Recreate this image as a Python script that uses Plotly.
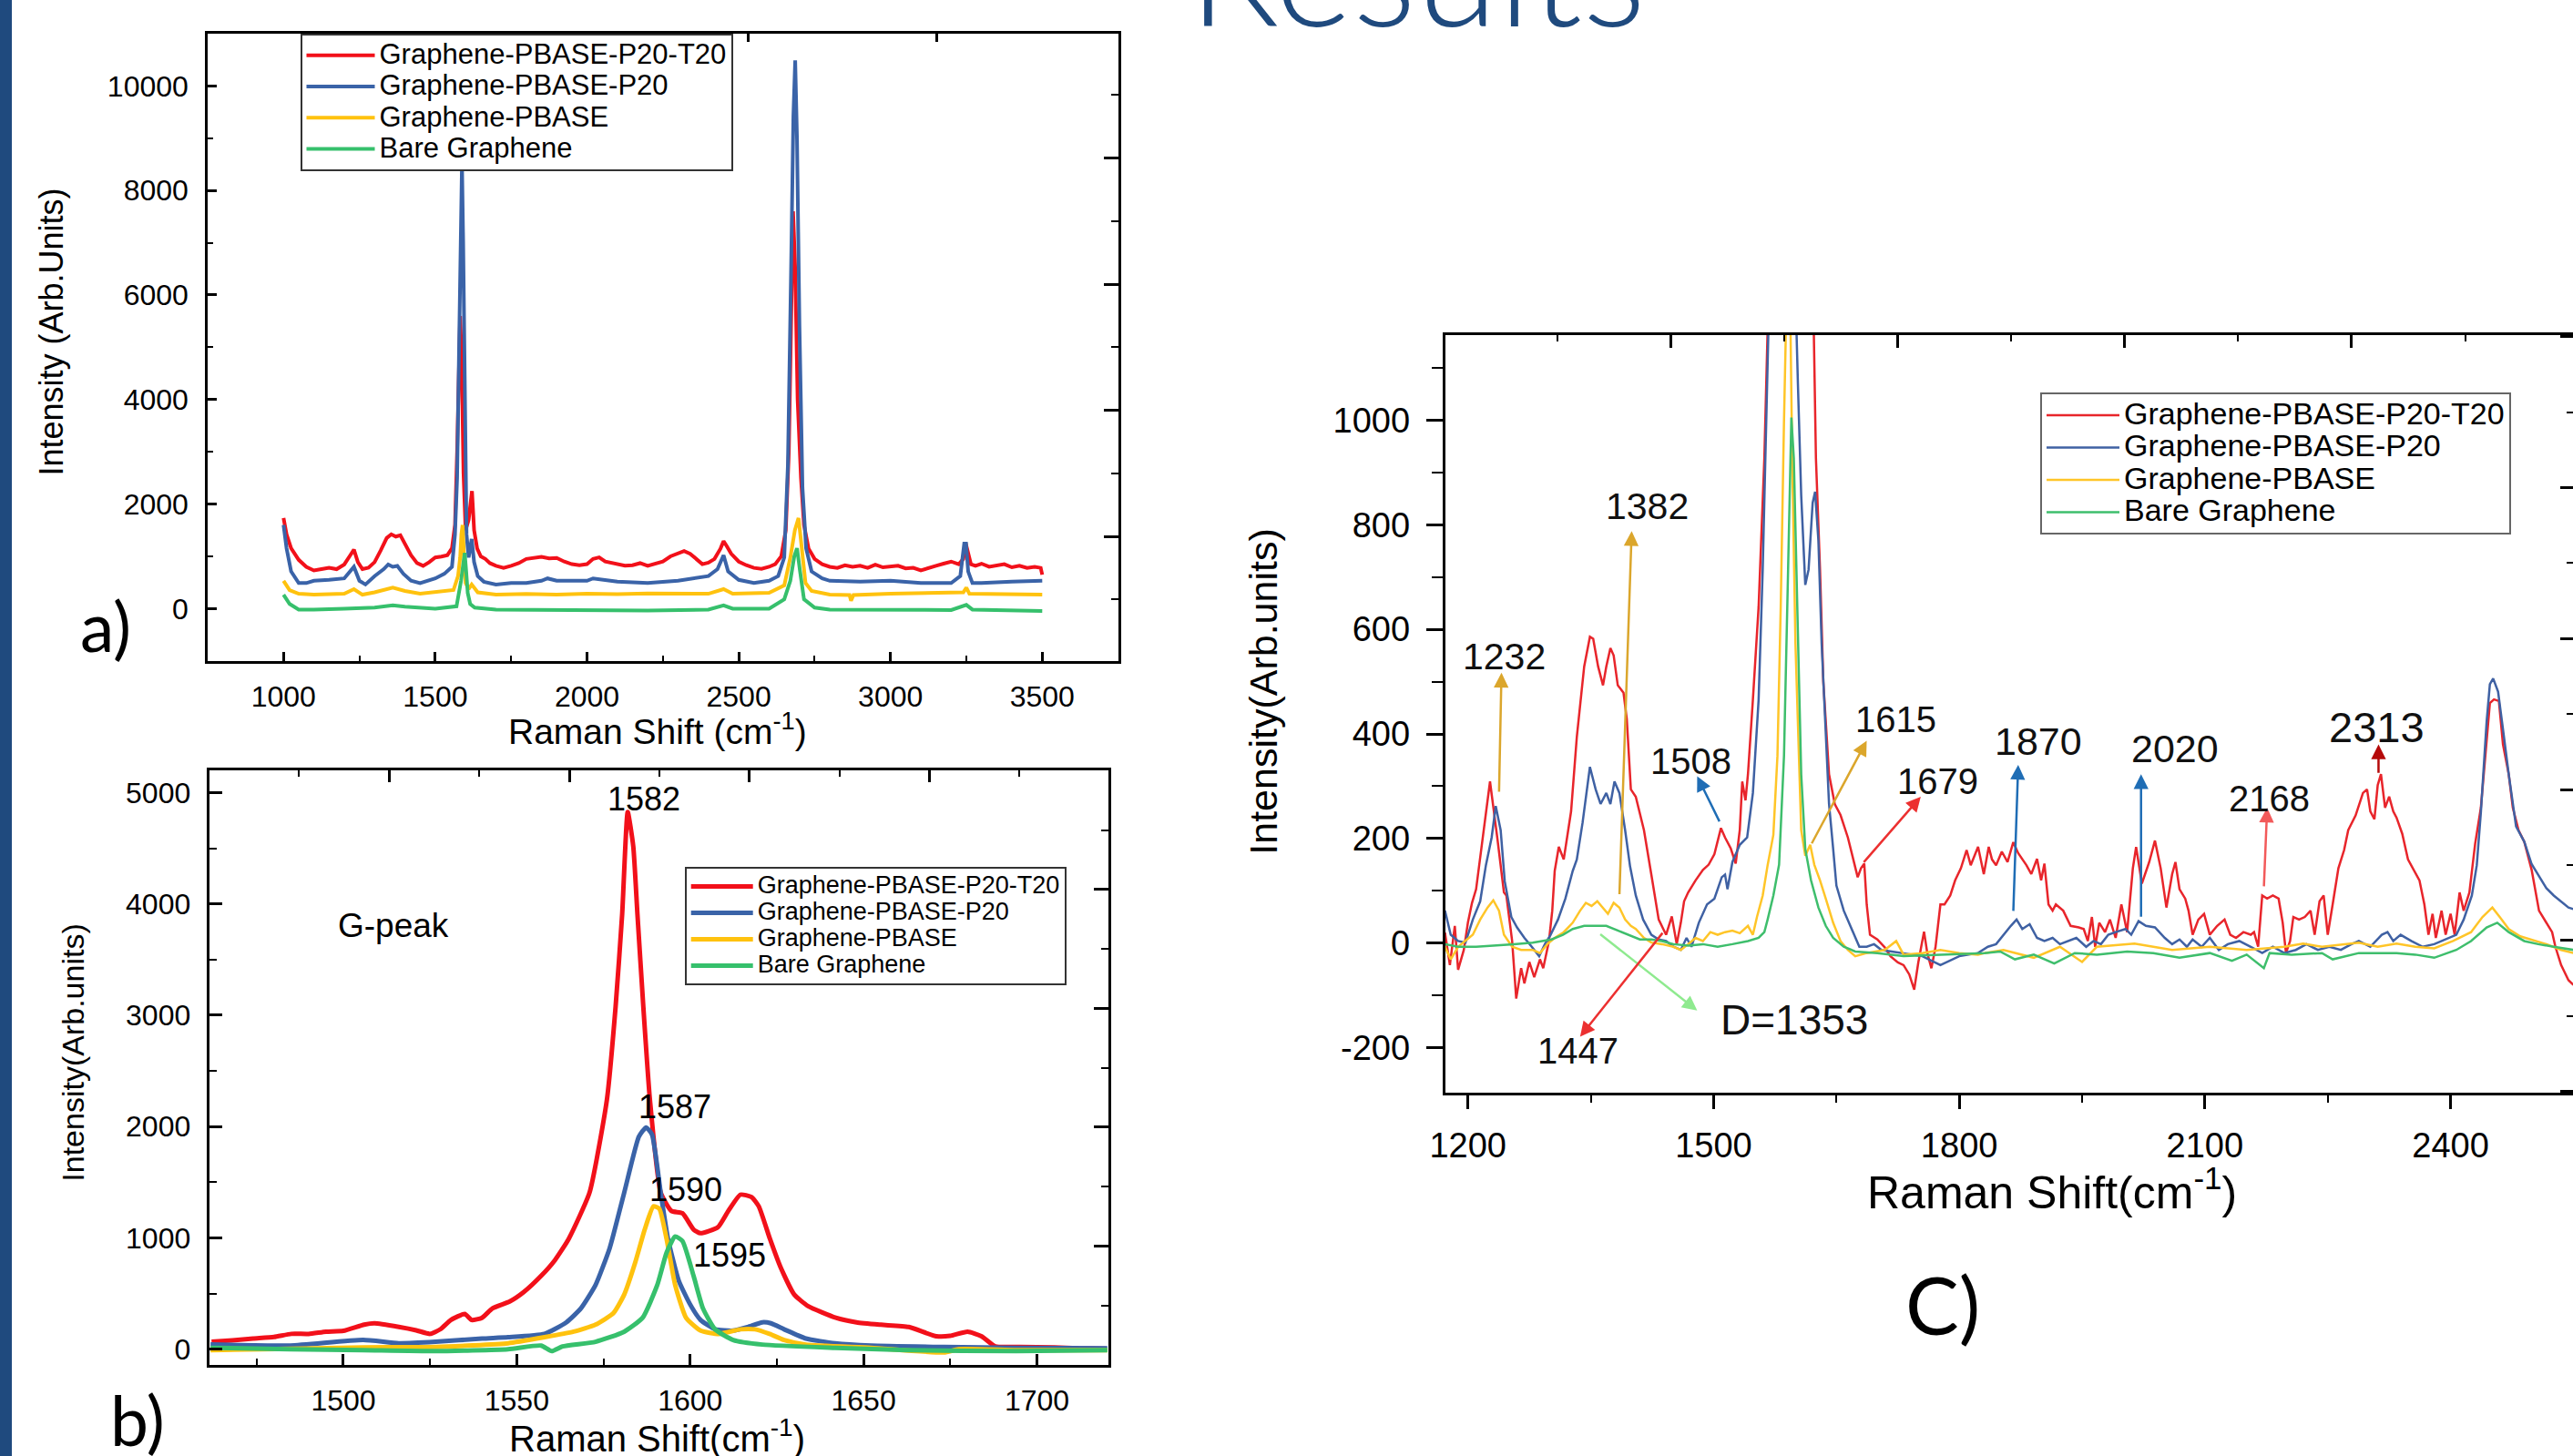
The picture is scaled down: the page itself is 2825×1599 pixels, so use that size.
import plotly.graph_objects as go

W, H = 2825, 1599


def px(x):
    return x / W


def py(y):
    return 1 - y / H


SERIES = ["Graphene-PBASE-P20-T20", "Graphene-PBASE-P20", "Graphene-PBASE", "Bare Graphene"]

# ---------------- panel a: full spectra (x = Raman shift, y = intensity) ----------------
A_T20 = [(1000, 1733), (1010, 1422), (1025, 1155), (1050, 933), (1075, 800), (1100, 729), (1125, 755),
         (1150, 782), (1175, 755), (1200, 844), (1220, 1022), (1232, 1129), (1245, 889), (1260, 755),
         (1280, 782), (1300, 889), (1320, 1111), (1340, 1351), (1355, 1422), (1370, 1378), (1385, 1404),
         (1400, 1244), (1420, 1022), (1440, 871), (1460, 818), (1480, 889), (1500, 978), (1520, 995),
         (1540, 1022), (1555, 1155), (1565, 1600), (1572, 3000), (1578, 4800), (1582, 5600), (1587, 4800),
         (1593, 2600), (1600, 1500), (1610, 1700), (1621, 2250), (1628, 1500), (1638, 1150), (1650, 1000),
         (1665, 950), (1680, 870), (1700, 820), (1725, 780), (1750, 820), (1775, 870), (1800, 950),
         (1825, 970), (1850, 990), (1875, 960), (1900, 970), (1925, 900), (1950, 850), (1975, 830),
         (2000, 850), (2020, 950), (2040, 980), (2060, 900), (2080, 880), (2100, 850), (2125, 820),
         (2150, 830), (2175, 870), (2200, 820), (2225, 860), (2250, 900), (2275, 1000), (2300, 1050),
         (2320, 1100), (2340, 1050), (2360, 950), (2380, 850), (2400, 880), (2420, 950), (2440, 1150),
         (2450, 1290), (2460, 1200), (2475, 1050), (2500, 900), (2525, 830), (2550, 780), (2575, 760),
         (2600, 800), (2620, 850), (2640, 1000), (2655, 1500), (2665, 3000), (2672, 5500), (2679, 7600),
         (2686, 6500), (2694, 4000), (2705, 2500), (2715, 1600), (2730, 1150), (2750, 950), (2775, 850),
         (2800, 800), (2825, 780), (2850, 830), (2875, 800), (2900, 820), (2925, 780), (2950, 840),
         (2975, 790), (3000, 800), (3025, 820), (3050, 770), (3075, 780), (3100, 730), (3125, 780),
         (3150, 820), (3175, 860), (3200, 900), (3225, 850), (3240, 950), (3248, 1250), (3255, 1050),
         (3265, 850), (3280, 820), (3300, 860), (3325, 800), (3350, 830), (3375, 850), (3400, 790),
         (3425, 820), (3450, 780), (3475, 800), (3495, 780), (3500, 650)]
A_P20 = [(1000, 1600), (1010, 1155), (1025, 711), (1050, 489), (1075, 489), (1100, 533), (1150, 550),
         (1200, 578), (1232, 800), (1250, 533), (1270, 462), (1300, 622), (1330, 755), (1345, 844),
         (1360, 800), (1375, 818), (1395, 667), (1420, 533), (1450, 489), (1480, 550), (1500, 578),
         (1530, 667), (1555, 800), (1565, 1422), (1572, 2500), (1578, 4800), (1583, 7200), (1588, 8533),
         (1592, 7000), (1597, 3600), (1603, 1420), (1610, 978), (1620, 1333), (1628, 889), (1640, 622),
         (1660, 515), (1700, 462), (1750, 489), (1800, 489), (1850, 533), (1870, 578), (1900, 533),
         (2000, 533), (2020, 578), (2100, 515), (2200, 489), (2300, 533), (2400, 622), (2430, 755),
         (2450, 1022), (2465, 711), (2500, 550), (2550, 489), (2600, 533), (2630, 622), (2650, 978),
         (2662, 2755), (2672, 6311), (2680, 9422), (2686, 10489), (2692, 8978), (2700, 5422), (2710, 2311),
         (2722, 1155), (2740, 711), (2775, 578), (2800, 533), (2900, 515), (3000, 533), (3100, 489),
         (3200, 489), (3230, 622), (3243, 1244), (3249, 1244), (3256, 711), (3270, 489), (3300, 489),
         (3400, 515), (3500, 533)]
A_PBASE = [(1000, 533), (1020, 355), (1050, 284), (1100, 267), (1200, 284), (1232, 373), (1260, 267),
           (1300, 311), (1360, 400), (1400, 338), (1450, 284), (1500, 311), (1560, 355), (1575, 622),
           (1582, 978), (1586, 1422), (1590, 1600), (1595, 978), (1600, 489), (1610, 373), (1620, 462),
           (1640, 311), (1700, 267), (1800, 280), (1900, 270), (2000, 285), (2100, 275), (2200, 290),
           (2300, 280), (2400, 284), (2450, 373), (2480, 284), (2600, 302), (2650, 444), (2670, 978),
           (2685, 1500), (2697, 1733), (2707, 1155), (2720, 489), (2740, 338), (2800, 267), (2865, 260),
           (2870, 150), (2878, 260), (3000, 284), (3240, 311), (3250, 400), (3260, 284), (3500, 267)]
A_BARE = [(1000, 267), (1020, 89), (1050, -18), (1100, -18), (1200, 0), (1300, 18), (1360, 62),
          (1400, 36), (1500, 0), (1570, 44), (1585, 533), (1592, 900), (1597, 1067), (1602, 700),
          (1607, 300), (1615, 89), (1630, 18), (1700, -18), (2000, -27), (2200, -36), (2400, -18),
          (2450, 62), (2480, 0), (2600, 0), (2650, 178), (2670, 533), (2683, 1000), (2692, 1155),
          (2702, 711), (2715, 178), (2750, 18), (2800, -18), (3200, -27), (3250, 71), (3270, -18),
          (3500, -44)]

# ---------------- panel b: G-peak ----------------
B_T20 = [(1462, 67), (1468, 80), (1474, 96), (1480, 110), (1485, 138), (1490, 138), (1495, 158), (1500, 165),
         (1506, 221), (1509, 233), (1516, 200), (1521, 170), (1525, 138), (1528, 180), (1531, 263),
         (1535, 317), (1537, 263), (1540, 283), (1543, 367), (1548, 429), (1552, 513), (1557, 658),
         (1561, 800), (1565, 992), (1571, 1408), (1576, 2242), (1578.5, 3075), (1580.4, 3908), (1582, 4825),
         (1583.6, 4517), (1584.8, 3908), (1586.5, 3075), (1588.4, 2242), (1591.5, 1408), (1594.6, 1242),
         (1597.8, 1221), (1601, 1075), (1603, 1042), (1608, 1096), (1611, 1242), (1614.5, 1388),
         (1617.7, 1367), (1619.8, 1283), (1623, 992), (1626, 742), (1630, 492), (1634, 388), (1642, 283),
         (1648, 242), (1655, 220), (1663, 200), (1671, 117), (1675, 120), (1680, 158), (1684, 117),
         (1688, 25), (1695, 21), (1705, 17), (1712, 8), (1720, 4)]
B_P20 = [(1461.7, 42), (1484.7, 33), (1505.7, 83), (1516, 54), (1526.6, 67), (1540, 96), (1547.5, 108),
         (1558, 138), (1564.3, 242), (1568.5, 367), (1572.7, 575), (1576.8, 908), (1581, 1408),
         (1585.2, 1908), (1587.3, 1992), (1589, 1929), (1591.5, 1408), (1593.6, 992), (1596.7, 617),
         (1599.9, 408), (1603, 263), (1607.2, 179), (1612.4, 167), (1616.6, 200), (1620.8, 242),
         (1623.3, 233), (1627.1, 179), (1633.4, 96), (1641.8, 54), (1652.2, 33), (1673.2, 21),
         (1694.1, 13), (1720.3, 8)]
B_PBASE = [(1461.7, -8), (1484.7, 4), (1505.7, 17), (1526.6, 21), (1547.5, 54), (1558, 108), (1566.4, 158),
           (1572.7, 221), (1577.9, 325), (1581, 492), (1584.2, 783), (1586.9, 1075), (1589.4, 1283),
           (1591.1, 1263), (1593.2, 992), (1595.7, 575), (1598.8, 283), (1603, 167), (1608.3, 138),
           (1614.5, 179), (1618.7, 179), (1622.9, 138), (1627.1, 83), (1633.4, 42), (1652.2, 13),
           (1673.2, -29), (1677.4, 0), (1694.1, -8), (1720.3, -8)]
B_BARE = [(1461.7, 13), (1484.7, 0), (1505.7, -8), (1526.6, -17), (1547.5, 0), (1557, 33), (1560.1, -17),
          (1563.2, 25), (1572.7, 67), (1581, 158), (1586.3, 283), (1590.5, 575), (1593.2, 867),
          (1595.7, 1013), (1597.8, 971), (1601, 658), (1603.7, 367), (1607.2, 179), (1612.4, 83),
          (1620.8, 42), (1641.8, 13), (1662.7, -8), (1694.1, -17), (1720.3, -8)]

# ---------------- panel c: zoomed baseline ----------------
C_T20 = [(1172, 20), (1178, -42), (1184, 33), (1188, -51), (1195, -13), (1200, 39), (1205, 77), (1210, 103),
         (1218, 200), (1227, 309), (1236, 200), (1244, 97), (1247, 91), (1254, 4), (1259, -106), (1265, -48),
         (1269, -77), (1275, -36), (1281, -65), (1288, -31), (1292, -48), (1299, 4), (1303, 62), (1306, 138),
         (1311, 184), (1317, 160), (1326, 252), (1333, 394), (1342, 529), (1349, 586), (1353, 582),
         (1359, 529), (1365, 493), (1369, 529), (1374, 564), (1378, 550), (1383, 493), (1390, 479),
         (1394, 429), (1399, 294), (1405, 280), (1415, 216), (1424, 131), (1433, 45), (1442, 16), (1449, 51),
         (1455, -2), (1460, 39), (1464, 80), (1469, 97), (1478, 120), (1487, 140), (1494, 150), (1501, 170),
         (1509, 220), (1514, 202), (1521, 181), (1527, 152), (1532, 216), (1535, 309), (1539, 273),
         (1542, 323), (1548, 465), (1555, 643), (1562, 927), (1566, 1140), (1570, 1420), (1582, 4800),
         (1590, 1900), (1600, 1250), (1610, 1250), (1617, 1390), (1621, 1300), (1625, 927), (1630, 714),
         (1634, 500), (1641, 323), (1648, 266), (1655, 245), (1664, 202), (1671, 160), (1676, 126),
         (1680, 143), (1684, 152), (1687, 74), (1691, 16), (1700, 7), (1709, -8), (1716, -25), (1725, -37),
         (1732, -42), (1739, -60), (1745, -89), (1750, -37), (1757, 22), (1761, -19), (1766, -48),
         (1771, -8), (1777, 74), (1782, 74), (1789, 91), (1795, 120), (1802, 143), (1809, 178), (1814, 149),
         (1823, 184), (1830, 132), (1836, 184), (1840, 160), (1845, 149), (1852, 175), (1859, 155),
         (1866, 193), (1872, 172), (1882, 149), (1888, 132), (1895, 161), (1900, 120), (1904, 152),
         (1909, 74), (1914, 62), (1918, 74), (1927, 62), (1936, 33), (1946, 30), (1952, 27), (1957, 4),
         (1962, 50), (1966, -7), (1971, 39), (1978, 21), (1984, 45), (1991, 10), (1998, 74), (2005, 21),
         (2012, 143), (2016, 184), (2023, 114), (2032, 155), (2039, 196), (2046, 143), (2053, 68),
         (2060, 132), (2064, 155), (2069, 103), (2076, 85), (2080, 62), (2085, 16), (2092, 45), (2099, 56),
         (2106, 16), (2115, 33), (2124, 45), (2131, 16), (2138, 10), (2147, 21), (2156, 16), (2160, 21),
         (2165, -7), (2170, 91), (2176, 85), (2183, 91), (2190, 85), (2195, 39), (2199, -19), (2204, 4),
         (2208, 50), (2215, 45), (2222, 50), (2229, 62), (2234, 16), (2240, 80), (2245, 91), (2250, 16),
         (2256, 74), (2263, 143), (2270, 178), (2275, 216), (2284, 244), (2293, 287), (2298, 294),
         (2302, 252), (2307, 237), (2311, 302), (2315, 323), (2320, 259), (2325, 280), (2330, 252),
         (2334, 240), (2341, 209), (2348, 160), (2352, 149), (2362, 120), (2368, 74), (2373, 16),
         (2378, 56), (2382, 10), (2389, 62), (2394, 16), (2400, 56), (2405, 16), (2411, 97), (2416, 62),
         (2423, 97), (2430, 190), (2437, 259), (2444, 388), (2448, 459), (2453, 466), (2459, 463),
         (2464, 380), (2471, 323), (2476, 259), (2483, 216), (2490, 194), (2499, 140), (2508, 62),
         (2517, 39), (2524, 21), (2528, -7), (2535, -42), (2544, -71), (2550, -80)]
C_P20 = [(1172, 62), (1179, 16), (1188, 4), (1197, 1), (1206, 45), (1215, 80), (1222, 149), (1229, 202),
         (1234, 262), (1240, 216), (1245, 118), (1253, 50), (1260, 30), (1269, 10), (1278, -7), (1287, -25),
         (1294, -2), (1301, 16), (1310, 45), (1319, 85), (1328, 138), (1333, 160), (1340, 230), (1349, 337),
         (1356, 294), (1362, 266), (1369, 287), (1374, 266), (1379, 309), (1385, 287), (1392, 216),
         (1398, 147), (1405, 91), (1414, 45), (1424, 16), (1433, 7), (1442, 4), (1451, -7), (1460, -13),
         (1467, 10), (1473, -7), (1482, 39), (1492, 74), (1501, 85), (1510, 126), (1514, 131), (1517, 103),
         (1523, 155), (1532, 188), (1541, 202), (1548, 287), (1555, 465), (1560, 714), (1564, 998),
         (1567, 1168), (1575, 1700), (1587, 2000), (1597, 1400), (1603, 1069), (1607, 856), (1612, 685),
         (1616, 714), (1621, 842), (1624, 863), (1628, 770), (1632, 572), (1637, 394), (1641, 266),
         (1646, 181), (1650, 110), (1659, 62), (1669, 27), (1678, -7), (1687, -7), (1696, -2), (1705, -13),
         (1732, -19), (1755, -25), (1777, -42), (1800, -25), (1823, -19), (1835, -7), (1845, -2), (1854, 16),
         (1863, 33), (1870, 45), (1877, 27), (1886, 36), (1895, 10), (1904, 4), (1914, 10), (1923, -2),
         (1932, 4), (1943, 10), (1955, -7), (1964, 4), (1973, -2), (1982, 16), (1991, 21), (2003, 27),
         (2010, 16), (2019, 42), (2028, 33), (2039, 30), (2051, 10), (2060, -2), (2069, 7), (2078, -7),
         (2085, 7), (2096, -7), (2106, 10), (2117, -13), (2128, -2), (2142, 4), (2156, -7), (2170, -19),
         (2183, -7), (2197, -19), (2211, -13), (2224, -2), (2238, -13), (2252, -7), (2266, -13), (2279, -2),
         (2288, 4), (2302, -7), (2316, 16), (2323, 21), (2330, 4), (2339, 16), (2352, 4), (2366, -7),
         (2380, -2), (2394, 7), (2407, 16), (2416, 45), (2426, 91), (2432, 149), (2437, 250), (2444, 423),
         (2448, 495), (2452, 506), (2458, 481), (2464, 409), (2471, 323), (2480, 223), (2490, 194),
         (2499, 151), (2508, 128), (2517, 105), (2526, 91), (2535, 80), (2544, 68), (2550, 65)]
C_PBASE = [(1172, -7), (1179, -31), (1188, -7), (1197, 4), (1206, 16), (1215, 45), (1224, 68), (1231, 82),
           (1238, 62), (1244, 16), (1254, -7), (1265, -13), (1279, -13), (1288, -19), (1297, -2), (1306, 10),
           (1317, 21), (1328, 39), (1337, 62), (1344, 77), (1351, 71), (1358, 80), (1365, 68), (1371, 56),
           (1378, 77), (1385, 68), (1392, 45), (1399, 33), (1405, 27), (1415, 10), (1424, 1), (1437, -2),
           (1451, -7), (1460, -13), (1469, -2), (1478, 10), (1487, 4), (1496, 21), (1505, 16), (1514, 21),
           (1523, 24), (1532, 19), (1542, 33), (1548, 16), (1553, 50), (1560, 91), (1566, 149), (1573, 207),
           (1578, 358), (1582, 643), (1586, 998), (1590, 1300), (1594, 1170), (1596, 927), (1600, 572),
           (1604, 358), (1607, 216), (1612, 167), (1618, 188), (1623, 150), (1630, 120), (1637, 85),
           (1646, 39), (1655, 4), (1664, -13), (1673, -25), (1687, -19), (1709, -13), (1723, 4), (1732, -22),
           (1755, -19), (1777, -13), (1800, -19), (1823, -22), (1831, -19), (1854, -13), (1891, -28),
           (1923, -7), (1950, -36), (1968, -7), (2014, -1), (2037, -7), (2060, -13), (2106, -7), (2151, -13),
           (2197, -7), (2220, -1), (2243, -7), (2288, 1), (2311, -7), (2334, -1), (2357, -7), (2380, -10),
           (2403, 4), (2425, 21), (2439, 50), (2451, 68), (2460, 50), (2471, 27), (2485, 13), (2499, 7),
           (2517, -2), (2535, -13), (2550, -19)]
C_BARE = [(1172, -2), (1188, -7), (1210, -7), (1233, -5), (1256, -2), (1279, 1), (1302, 7), (1316, 16),
          (1328, 27), (1342, 33), (1356, 33), (1369, 33), (1383, 24), (1396, 16), (1410, 7), (1424, 7),
          (1437, 4), (1451, -2), (1469, -5), (1487, -2), (1505, -7), (1523, -2), (1542, 4), (1555, 10),
          (1562, 21), (1566, 45), (1573, 91), (1580, 150), (1586, 358), (1591, 714), (1595, 1005),
          (1598, 927), (1603, 572), (1607, 323), (1612, 180), (1619, 120), (1628, 68), (1637, 33),
          (1646, 10), (1659, -7), (1673, -16), (1700, -19), (1732, -25), (1777, -22), (1823, -19),
          (1831, -19), (1850, -16), (1868, -31), (1891, -22), (1916, -39), (1941, -19), (1968, -22),
          (2005, -16), (2037, -19), (2069, -28), (2106, -19), (2133, -34), (2151, -22), (2172, -48),
          (2179, -19), (2206, -22), (2243, -19), (2256, -31), (2288, -19), (2334, -19), (2357, -22),
          (2380, -28), (2407, -13), (2425, 4), (2444, 30), (2457, 39), (2471, 21), (2490, 4), (2507, -2),
          (2526, -7), (2550, -13)]

# tick labels of panel c's intensity axis (hyphen minus as in the original)
C_YTICKS = [-200, 0, 200, 400, 600, 800, 1000]
C_YTICKTEXT = ["-200", "0", "200", "400", "600", "800", "1000"]

# peak labels
B_LABELS = [("1582", 1586.8, 4944), ("1587", 1595.6, 2175), ("1590", 1598.8, 1437), ("1595", 1611.4, 846)]
# (text, label x, label y, arrow tail x, tail y, head x, head y, colour, font size)
C_LABELS = [
    ("1232", 1244, 548, 1238, 287, 1241, 517, "#DBA62C", 41),
    ("1382", 1419, 836, 1385, 91, 1400, 788, "#DBA62C", 41),
    ("1508", 1472, 348, 1508, 230, 1480, 319, "#1F6DB5", 40),
    ("1615", 1723, 428, 1619, 188, 1687, 387, "#DBA62C", 40),
    ("1679", 1774, 309, 1682, 152, 1753, 280, "#EC3030", 40),
    ("1870", 1897, 386, 1866, 59, 1872, 341, "#1F6DB5", 43),
    ("2020", 2064, 373, 2022, 48, 2022, 323, "#1F6DB5", 43),
    ("2168", 2179, 277, 2172, 106, 2176, 259, "#F25A5A", 40),
    ("2313", 2310, 413, 2312, 323, 2312, 380, "#B50A0A", 47),
    ("D=1353", 1599, -147, 1360, 19, 1480, -129, "#8FEA8F", 46),
    ("1447", 1334, -206, 1439, 22, 1337, -179, "#EC3030", 40),
]

COL_AB = ["#F2101A", "#3A63A8", "#FFC20E", "#36C06C"]
COL_C = ["#E8252B", "#3F61A3", "#FFC528", "#3EBE6C"]

FONT = "Liberation Sans, Arial, sans-serif"
SLIDE_FONT = "Lato, Open Sans, sans-serif"
BLUE_SLIDE = "#1F4A7E"

fig = go.Figure()

# (data, x axis, y axis, legend id, colours, line width, line shape, legend text size)
panels = [
    ([A_T20, A_P20, A_PBASE, A_BARE], "x", "y", "legend", COL_AB, 4, "linear", 31),
    ([B_T20, B_P20, B_PBASE, B_BARE], "x2", "y2", "legend2", COL_AB, 5, "spline", 27),
    ([C_T20, C_P20, C_PBASE, C_BARE], "x3", "y3", "legend3", COL_C, 2.5, "linear", 34),
]
for data, xa, ya, leg, cols, lw, shape, lfs in panels:
    for name, pts, col in zip(SERIES, data, cols):
        xs = [p[0] for p in pts]
        ys = [p[1] for p in pts]
        line = dict(color=col, width=lw, shape=shape)
        if shape == "spline":
            line["smoothing"] = 0.5
        fig.add_trace(go.Scatter(x=xs, y=ys, mode="lines",
                                 name='<span style="font-size:%dpx">%s</span>' % (lfs, name),
                                 xaxis=xa, yaxis=ya, legend=leg, line=line, hoverinfo="skip"))

# empty traces that bind the frame (top / right) axes
for xa, ya in [("x4", "y4"), ("x5", "y5"), ("x6", "y6")]:
    fig.add_trace(go.Scatter(x=[], y=[], xaxis=xa, yaxis=ya, showlegend=False, hoverinfo="skip"))


def main_axis(domain, rng, tick0, dtick, mdtick, ticks, tlen, mlen, fsize, standoff, anchor):
    return dict(domain=domain, range=rng, tickmode="linear", tick0=tick0, dtick=dtick, tickformat="d",
                ticks=ticks, ticklen=tlen, tickwidth=2.5, tickcolor="black",
                minor=dict(dtick=mdtick, tick0=tick0, ticks=ticks, ticklen=mlen, tickwidth=2, tickcolor="black"),
                showline=True, linewidth=2.5, linecolor="black", mirror=False, automargin=False,
                showgrid=False, zeroline=False, anchor=anchor,
                tickfont=dict(family=FONT, size=fsize, color="black"),
                ticklabelstandoff=standoff)


def frame_axis(overlay, anchor, side, rng, tick0, dtick, mdtick, tlen, mlen, showline=True):
    d = dict(overlaying=overlay, anchor=anchor, side=side, range=rng, tickmode="linear",
             tick0=tick0, dtick=dtick, ticks="inside", ticklen=tlen, tickwidth=2.5, tickcolor="black",
             showticklabels=False, showline=showline, linewidth=2.5, linecolor="black",
             showgrid=False, zeroline=False, automargin=False)
    if mdtick:
        d["minor"] = dict(dtick=mdtick, tick0=tick0, ticks="inside", ticklen=mlen, tickwidth=2,
                          tickcolor="black")
    return d


# panel geometry (pixels)
AX0, AX1, AY0, AY1 = 228, 1227.6, 36.7, 725.5
BX0, BX1, BY0, BY1 = 230.4, 1217.3, 845.9, 1499
CX0, CX1, CY0, CY1 = 1586.5, 2825, 367.8, 1200

yaxis3 = main_axis([py(CY1), py(CY0)], [-286, 1163], 0, 200, 100, "outside", 18, 12, 38, 10, "x3")
yaxis3.update(tickmode="array", tickvals=C_YTICKS, ticktext=C_YTICKTEXT)
yaxis3["minor"].update(tickmode="linear")

layout = dict(
    width=W, height=H, autosize=False, margin=dict(l=0, r=0, t=0, b=0, pad=0),
    paper_bgcolor="white", plot_bgcolor="white", showlegend=True,
    xaxis=main_axis([px(AX0), px(AX1)], [750, 3750], 1000, 500, 250, "inside", 10, 6, 32, 9, "y"),
    yaxis=main_axis([py(AY1), py(AY0)], [-995, 11005], 0, 2000, 1000, "inside", 10, 6, 32, 12, "x"),
    xaxis2=main_axis([px(BX0), px(BX1)], [1461.5, 1720.7], 1500, 50, 25, "inside", 12, 7, 32, 9, "y2"),
    yaxis2=main_axis([py(BY1), py(BY0)], [-141, 5200], 0, 1000, 500, "inside", 14, 8, 32, 12, "x2"),
    xaxis3=main_axis([px(CX0), 1.0], [1172, 2549.5], 1200, 300, 150, "outside", 15, 8, 38, 8, "y3"),
    yaxis3=yaxis3,
    xaxis4=frame_axis("x", "y", "top", [AX0, AX1], 821.4, 207.3, None, 10, 0),
    yaxis4=frame_axis("y", "x", "right", [AY1, AY0], 173.5, 138.5, 69.25, 16, 8),
    xaxis5=frame_axis("x2", "y2", "top", [BX0, BX1], 427.3, 197.7, 98.85, 13, 7),
    yaxis5=frame_axis("y2", "x2", "right", [BY1, BY0], 976.8, 130.5, 65.25, 17, 9),
    xaxis6=frame_axis("x3", "y3", "top", [CX0, CX1], 1834.3, 249.2, 124.6, 14, 7),
    yaxis6=frame_axis("y3", "x3", "right", [CY1, CY0], 535.4, 165.8, 82.9, 14, 7, showline=False),
    legend=dict(x=px(329.5), y=py(36.7), xanchor="left", yanchor="top", bgcolor="white",
                bordercolor="#333333", borderwidth=2, font=dict(family=FONT, size=24, color="black"),
                itemwidth=75, tracegroupgap=0),
    legend2=dict(x=px(751.7), y=py(952), xanchor="left", yanchor="top", bgcolor="white",
                 bordercolor="#333333", borderwidth=2, font=dict(family=FONT, size=20, color="black"),
                 itemwidth=68, tracegroupgap=0),
    legend3=dict(x=px(2240), y=py(431.3), xanchor="left", yanchor="top", bgcolor="white",
                 bordercolor="#666666", borderwidth=2, font=dict(family=FONT, size=25, color="black"),
                 itemwidth=80, tracegroupgap=0),
)
fig.update_layout(**layout)

ann = []
# slide title (cut at top edge) and panel letters
ann.append(dict(text="Results", x=px(1556), y=py(66), xref="paper", yref="paper", xanchor="center",
                yanchor="bottom", showarrow=False,
                font=dict(family=SLIDE_FONT, size=164, color=BLUE_SLIDE, weight=300)))
for t, cx, bottom, size in [("a)", 116, 734, 75), ("b)", 151, 1606, 75), ("C)", 2133, 1487, 88)]:
    ann.append(dict(text=t, x=px(cx), y=py(bottom), xref="paper", yref="paper", xanchor="center",
                    yanchor="bottom", showarrow=False, font=dict(family=SLIDE_FONT, size=size, color="black")))

# axis titles
for t, cx, cy, ang, size in [
    ("Intensity (Arb.Units)", 56, 364.5, -90, 36),
    ("Raman Shift (cm<sup>-1</sup>)", 722, 800, 0, 39),
    ("Intensity(Arb.units)", 80, 1156.7, -90, 34),
    ("Raman Shift(cm<sup>-1</sup>)", 721.5, 1577, 0, 40),
    ("Intensity(Arb.units)", 1386.7, 760, -90, 43),
    ("Raman Shift(cm<sup>-1</sup>)", 2253, 1306, 0, 50),
]:
    ann.append(dict(text=t, x=px(cx), y=py(cy), xref="paper", yref="paper", xanchor="center",
                    yanchor="middle", textangle=ang, showarrow=False,
                    font=dict(family=FONT, size=size, color="black")))

# panel b labels
ann.append(dict(text="G-peak", x=1514.4, y=3803, xref="x2", yref="y2", showarrow=False,
                font=dict(family=FONT, size=37, color="black")))
for t, x, y in B_LABELS:
    ann.append(dict(text=t, x=x, y=y, xref="x2", yref="y2", showarrow=False,
                    font=dict(family=FONT, size=36, color="black")))

# panel c labels and arrows
for t, lx, ly, tx, ty, hx, hy, col, size in C_LABELS:
    ann.append(dict(text="", x=hx, y=hy, ax=tx, ay=ty, xref="x3", yref="y3", axref="x3", ayref="y3",
                    showarrow=True, arrowhead=2, arrowsize=1.3, arrowwidth=2.5, arrowcolor=col, standoff=0,
                    startstandoff=0))
    ann.append(dict(text=t, x=lx, y=ly, xref="x3", yref="y3", showarrow=False,
                    font=dict(family=FONT, size=size, color="#111111")))

fig.update_layout(annotations=ann)

fig.update_layout(shapes=[dict(type="rect", xref="paper", yref="paper", x0=0, x1=px(13), y0=0, y1=1,
                               fillcolor=BLUE_SLIDE, line=dict(width=0), layer="above")])

fig.write_html("out.html", include_plotlyjs=True, config={"displayModeBar": False},
               post_script="document.body.style.margin='0';document.documentElement.style.overflow='hidden';")
